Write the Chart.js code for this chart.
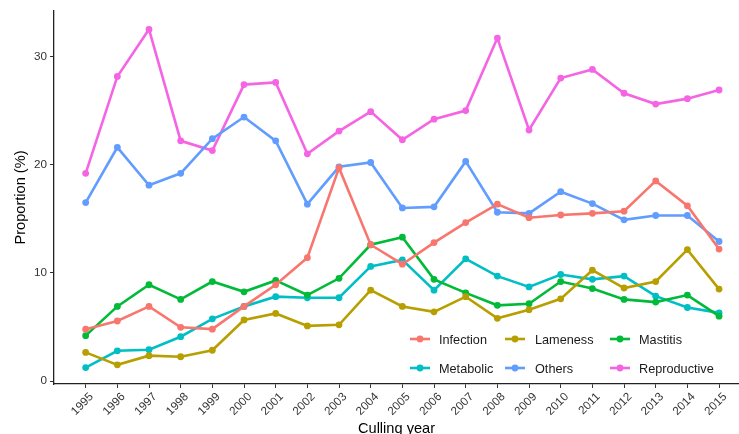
<!DOCTYPE html>
<html>
<head>
<meta charset="utf-8">
<script src="https://cdn.jsdelivr.net/npm/chart.js@4/dist/chart.umd.min.js"></script>
<style>
html,body{margin:0;padding:0;background:#fff;}
#c{display:block;}
</style>
</head>
<body>
<canvas id="c" width="739" height="434"></canvas>
<script>
const years = [1995,1996,1997,1998,1999,2000,2001,2002,2003,2004,2005,2006,2007,2008,2009,2010,2011,2012,2013,2014,2015];
const yTicks = [0,10,20,30];
const infection    = [4.8,5.55,6.9,4.97,4.8,6.9,8.9,11.4,19.7,12.6,10.8,12.8,14.65,16.35,15.1,15.35,15.5,15.7,18.5,16.2,12.2];
const lameness     = [2.65,1.5,2.35,2.25,2.85,5.65,6.25,5.1,5.2,8.4,6.9,6.4,7.8,5.8,6.6,7.6,10.25,8.6,9.2,12.15,8.5];
const mastitis     = [4.2,6.9,8.9,7.55,9.2,8.25,9.3,7.95,9.5,12.6,13.3,9.4,8.15,7.0,7.15,9.2,8.55,7.55,7.3,7.95,6.0];
const metabolic    = [1.25,2.8,2.9,4.1,5.75,6.9,7.8,7.7,7.7,10.6,11.2,8.4,11.3,9.7,8.7,9.85,9.4,9.7,7.85,6.8,6.3];
const others       = [16.5,21.6,18.1,19.2,22.4,24.4,22.2,16.35,19.8,20.2,16.0,16.1,20.3,15.6,15.5,17.5,16.4,14.9,15.3,15.3,12.9];
const reproductive = [19.2,28.15,32.5,22.2,21.3,27.4,27.6,21.0,23.1,24.9,22.3,24.2,25.0,31.7,23.2,28.0,28.8,26.6,25.6,26.1,26.9];

const seriesNames = ['Infection','Lameness','Mastitis','Metabolic','Others','Reproductive'];
const seriesData = [infection,lameness,mastitis,metabolic,others,reproductive];
const seriesColors = ['#F8766D','#B79F00','#00BA38','#00BFC4','#619CFF','#F564E3'];

const FONT = "'Liberation Sans', Arial, sans-serif";

const datasets = seriesNames.map((n,i)=>({
  label:n,
  data: years.map((y,j)=>({x:y,y:seriesData[i][j]})),
  borderColor: seriesColors[i],
  backgroundColor: seriesColors[i],
  borderWidth: 2.6,
  pointRadius: 3.4,
  pointBorderWidth: 0,
  tension: 0,
  fill:false
}));

const legendPlugin = {
  id:'ggLegend',
  afterDraw(chart){
    const ctx = chart.ctx;
    const symX = [420,515,620];
    const txtX = [439,535,639];
    const rowY = [339,368];
    ctx.save();
    ctx.font = "12.7px " + FONT;
    ctx.textBaseline = 'middle';
    ctx.textAlign = 'left';
    chart.data.datasets.forEach((ds,i)=>{
      const col = i%3, row = Math.floor(i/3);
      const cx = symX[col], cy = rowY[row];
      ctx.strokeStyle = ds.borderColor;
      ctx.lineWidth = 2.6;
      ctx.beginPath(); ctx.moveTo(cx-10,cy); ctx.lineTo(cx+10,cy); ctx.stroke();
      ctx.fillStyle = ds.borderColor;
      ctx.beginPath(); ctx.arc(cx,cy,3.4,0,Math.PI*2); ctx.fill();
      ctx.fillStyle = '#1a1a1a';
      ctx.fillText(ds.label, txtX[col], cy+1);
    });
    ctx.restore();
  }
};

new Chart(document.getElementById('c'), {
  type:'line',
  data:{datasets},
  plugins:[legendPlugin],
  options:{
    responsive:false,
    animation:false,
    layout:{autoPadding:false,padding:{top:11,right:0,left:0,bottom:0}},
    plugins:{legend:{display:false},tooltip:{enabled:false}},
    scales:{
      x:{
        type:'linear', min:1994, max:2015.63,
        afterBuildTicks:s=>{s.ticks = years.map(v=>({value:v}));},
        afterFit:s=>{s.height = 50; s.paddingRight = 0; s.paddingLeft = 0;},
        ticks:{minRotation:45,maxRotation:45,autoSkip:false,callback:v=>String(v),color:'#333333',font:{size:11.7,family:FONT},padding:2,labelOffset:6},
        grid:{display:true,drawOnChartArea:false,tickLength:4,color:'#333333',tickWidth:1},
        border:{display:true,color:'#222222',width:1.3},
        title:{display:true,text:'Culling year',color:'#000',font:{size:14.6,family:FONT},padding:{top:0,bottom:-4}}
      },
      y:{
        type:'linear', min:-0.27, max:34.2,
        afterBuildTicks:s=>{s.ticks = yTicks.map(v=>({value:v}));},
        afterFit:s=>{s.width = 54; s.paddingTop = 0; s.paddingBottom = 0;},
        ticks:{color:'#333333',font:{size:11.7,family:FONT},padding:3},
        grid:{display:true,drawOnChartArea:false,tickLength:4,color:'#333333',tickWidth:1},
        border:{display:true,color:'#222222',width:1.3},
        title:{display:true,text:'Proportion (%)',color:'#000',font:{size:14.6,family:FONT},padding:{top:12,bottom:0}}
      }
    }
  }
});
</script>
</body>
</html>
